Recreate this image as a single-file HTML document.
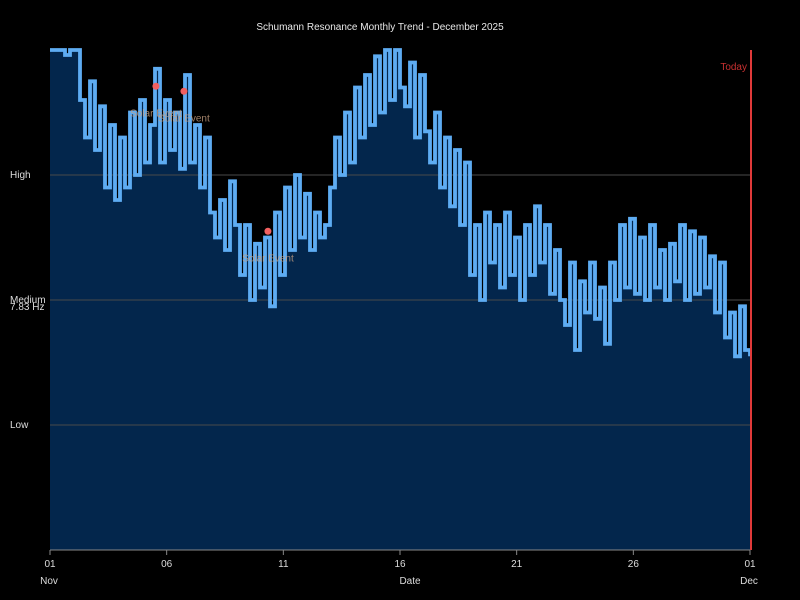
<!DOCTYPE html>
<html><head><meta charset="utf-8"><style>
html,body{margin:0;padding:0;background:#000;}
svg{display:block;font-family:"Liberation Sans",sans-serif;}
</style></head><body>
<svg id="chart" width="800" height="600" viewBox="0 0 800 600">
<rect width="800" height="600" fill="#000"/>
<text x="380" y="30" fill="#e8e8e8" font-size="10" text-anchor="middle">Schumann Resonance Monthly Trend - December 2025</text>
<g id="plot"></g>
</svg>
<script>
const values = [4.0,4.0,4.0,3.96,4.0,4.0,3.6,3.3,3.75,3.2,3.55,2.9,3.4,2.8,3.3,2.9,3.5,3.0,3.6,3.1,3.4,3.85,3.1,3.6,3.2,3.5,3.05,3.8,3.1,3.4,2.9,3.3,2.7,2.5,2.8,2.4,2.95,2.6,2.2,2.6,2.0,2.45,2.1,2.5,1.95,2.7,2.2,2.9,2.4,3.0,2.5,2.85,2.4,2.7,2.5,2.6,2.9,3.3,3.0,3.5,3.1,3.7,3.3,3.8,3.4,3.95,3.5,4.0,3.6,4.0,3.7,3.55,3.9,3.3,3.8,3.35,3.1,3.5,2.9,3.3,2.75,3.2,2.6,3.1,2.2,2.6,2.0,2.7,2.3,2.6,2.1,2.7,2.2,2.5,2.0,2.6,2.2,2.75,2.3,2.6,2.05,2.4,2.0,1.8,2.3,1.6,2.15,1.9,2.3,1.85,2.1,1.65,2.3,2.0,2.6,2.1,2.65,2.05,2.5,2.0,2.6,2.1,2.4,2.0,2.45,2.15,2.6,2.0,2.55,2.05,2.5,2.1,2.35,1.9,2.3,1.7,1.9,1.55,1.95,1.6,1.55];
const totalDays = 30;
const eventDays = [4.54, 5.74, 9.34];
const eventValues = [3.71, 3.67, 2.55];
const eventLabels = ["Solar Event","Solar Event","Solar Event"];
const levelNames = ["Low","Medium","High"];
const levelValues = [1,2,3];
const tickDays = [0,5,10,15,20,25,30];
const tickLabels = ["01","06","11","16","21","26","01"];
const monthLabels = ["Nov","","","","","","Dec"];

const X0=50,X1=750,Y0=550,Y1=50,VMAX=4;
const xs = d => X0 + d/totalDays*(X1-X0);
const ys = v => Y0 - Math.min(v,VMAX)/VMAX*(Y0-Y1);
const NS="http://www.w3.org/2000/svg";
const g=document.getElementById('plot');
function mk(t,a,p){const e=document.createElementNS(NS,t);for(const k in a)e.setAttribute(k,a[k]);(p||g).appendChild(e);return e;}

const step = totalDays/(values.length-1);
const pts = values.map((v,i)=>[xs(i*step), ys(v)]);
let stepD='M'+pts[0][0].toFixed(1)+','+pts[0][1].toFixed(1);
for(let i=1;i<pts.length;i++){stepD+=' H'+pts[i][0].toFixed(1)+' V'+pts[i][1].toFixed(1);}
const area = mk('path',{d:'M'+X0+','+Y0+' V'+pts[0][1].toFixed(1)+stepD.slice(stepD.indexOf(' '))+' V'+Y0+' Z',fill:'#03264c'});



levelValues.forEach((lv,i)=>{
  const y=ys(lv);
  const l=mk('line',{x1:X0,x2:X1,y1:y,y2:y,stroke:'#4a4a4a',"stroke-width":1});
  
  
  const t=mk('text',{x:10,y:y+3,fill:'#ddd',"font-size":10});
  t.textContent=levelNames[i];
  
  
});
const hz=mk('text',{x:10,y:ys(2)+10,fill:'#ddd',"font-size":10});
hz.textContent='7.83 Hz';



const line=mk('path',{d:stepD,fill:'none',stroke:'#5eacf2',"stroke-width":3.8,"stroke-linejoin":"miter"});



eventDays.forEach((d,i)=>{
  const c=mk('circle',{cx:xs(d),cy:ys(eventValues[i]),r:3.5,fill:'#f26060'});
  
  
  const t=mk('text',{x:xs(d),y:ys(eventValues[i])+30,fill:'rgba(200,160,130,0.8)',"font-size":10,"text-anchor":"middle"});
  t.textContent=eventLabels[i];
  
  
});

const ax=mk('line',{x1:X0,x2:X1,y1:Y0,y2:Y0,stroke:'#888'});


tickDays.forEach((d,i)=>{
  const x=xs(d);
  const tk=mk('line',{x1:x,x2:x,y1:Y0,y2:Y0+5,stroke:'#888'});
  
  
  const t=mk('text',{x:x,y:567,fill:'#ddd',"font-size":10,"text-anchor":"middle"});
  t.textContent=tickLabels[i];
  
  
  if(monthLabels[i]){
    const m=mk('text',{x:x-1,y:584,fill:'#ddd',"font-size":10,"text-anchor":"middle"});
    m.textContent=monthLabels[i];
    
    
  }
});
const xt=mk('text',{x:410,y:584,fill:'#ddd',"font-size":10,"text-anchor":"middle"});
xt.textContent='Date';



const td=mk('line',{x1:X1+1,x2:X1+1,y1:Y1,y2:Y0,stroke:'#e03a3a',"stroke-width":2});


const tt=mk('text',{x:747,y:70,fill:'#c83030',"font-size":10,"text-anchor":"end"});
tt.textContent='Today';


</script>
</body></html>
